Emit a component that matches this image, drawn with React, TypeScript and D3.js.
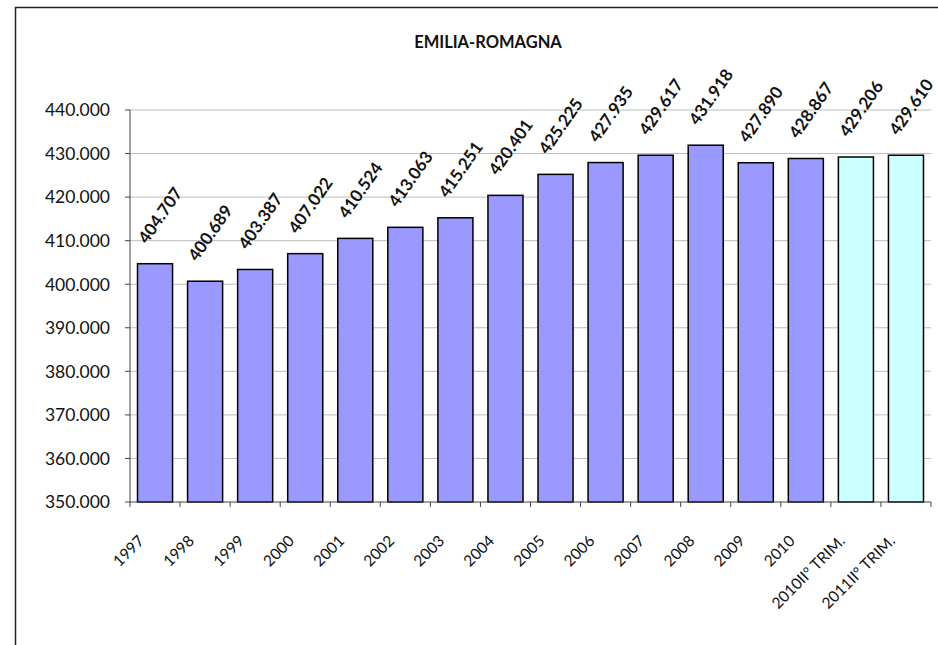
import React from "react";
import * as d3 from "d3";

const categories = ["1997","1998","1999","2000","2001","2002","2003","2004","2005","2006","2007","2008","2009","2010","2010II° TRIM.","2011II° TRIM."];
const values = [404707,400689,403387,407022,410524,413063,415251,420401,425225,427935,429617,431918,427890,428867,429206,429610];
const highlighted = [false,false,false,false,false,false,false,false,false,false,false,false,false,false,true,true];
const yTicks = [350000,360000,370000,380000,390000,400000,410000,420000,430000,440000];
const title = "EMILIA-ROMAGNA";

const itLocale = d3.formatLocale({ decimal: ",", thousands: ".", grouping: [3], currency: ["", "€"] });
const fmt = itLocale.format(",.0f");

export default function App() {
  const W = 938, H = 645;
  const left = 130, right = 931, top = 110, bottom = 502;
  const x = d3.scaleBand<string>().domain(categories).range([left, right]).paddingInner(0.3).paddingOuter(0.15);
  const xb = d3.scaleBand<string>().domain(categories).range([left, right]);
  const y = d3.scaleLinear().domain([350000, 440000]).range([bottom, top]);
  const font = "Lato, 'Open Sans', sans-serif";
  const bounds = categories.map((_, i) => left + (i * (right - left)) / categories.length).concat([right]);
  return (
    <svg width={W} height={H} style={{ position: "absolute", left: 0, top: 0, background: "#fff" }} fontFamily={font}>
      <rect x={15.5} y={7.5} width={940} height={660} fill="#fff" stroke="#222" strokeWidth={1.5} />
      <text x={488} y={48} textAnchor="middle" fontWeight="bold" fontSize={16.5} fill="#111">{title}</text>
      {yTicks.map((t) => (
        <g key={t}>
          {t !== 350000 && <line x1={left} x2={right} y1={y(t)} y2={y(t)} stroke="#bdbdbd" strokeWidth={1} />}
          <line x1={left - 5} x2={left} y1={y(t)} y2={y(t)} stroke="#444" strokeWidth={1} />
          <text x={110} y={y(t)} dy="0.36em" textAnchor="end" fontSize={17.5} fill="#111">{fmt(t)}</text>
        </g>
      ))}
      {categories.map((c, i) => (
        <rect key={c} x={x(c)} y={y(values[i])} width={x.bandwidth()} height={bottom - y(values[i])}
          fill={highlighted[i] ? "#CCFFFF" : "#9999FF"} stroke="#000" strokeWidth={1.5} />
      ))}
      <line x1={left} x2={left} y1={top} y2={bottom} stroke="#444" strokeWidth={1} />
      <line x1={left} x2={right} y1={bottom} y2={bottom} stroke="#444" strokeWidth={1} />
      {bounds.map((b, i) => (
        <line key={i} x1={b} x2={b} y1={bottom} y2={bottom + 5} stroke="#444" strokeWidth={1} />
      ))}
      {categories.map((c) => {
        const cx = (xb(c) as number) + xb.bandwidth() / 2;
        return (
          <text key={c} transform={`translate(${cx - 10},${542}) rotate(-45)`} textAnchor="end" fontSize={15.5} fill="#111">{c}</text>
        );
      })}
      {categories.map((c, i) => {
        const cx = (x(c) as number) + x.bandwidth() / 2;
        return (
          <text key={c} transform={`translate(${cx - 8},${y(values[i]) - 19}) rotate(-55)`} textAnchor="start" fontWeight="bold" fontSize={17} fill="#111">{fmt(values[i])}</text>
        );
      })}
    </svg>
  );
}
